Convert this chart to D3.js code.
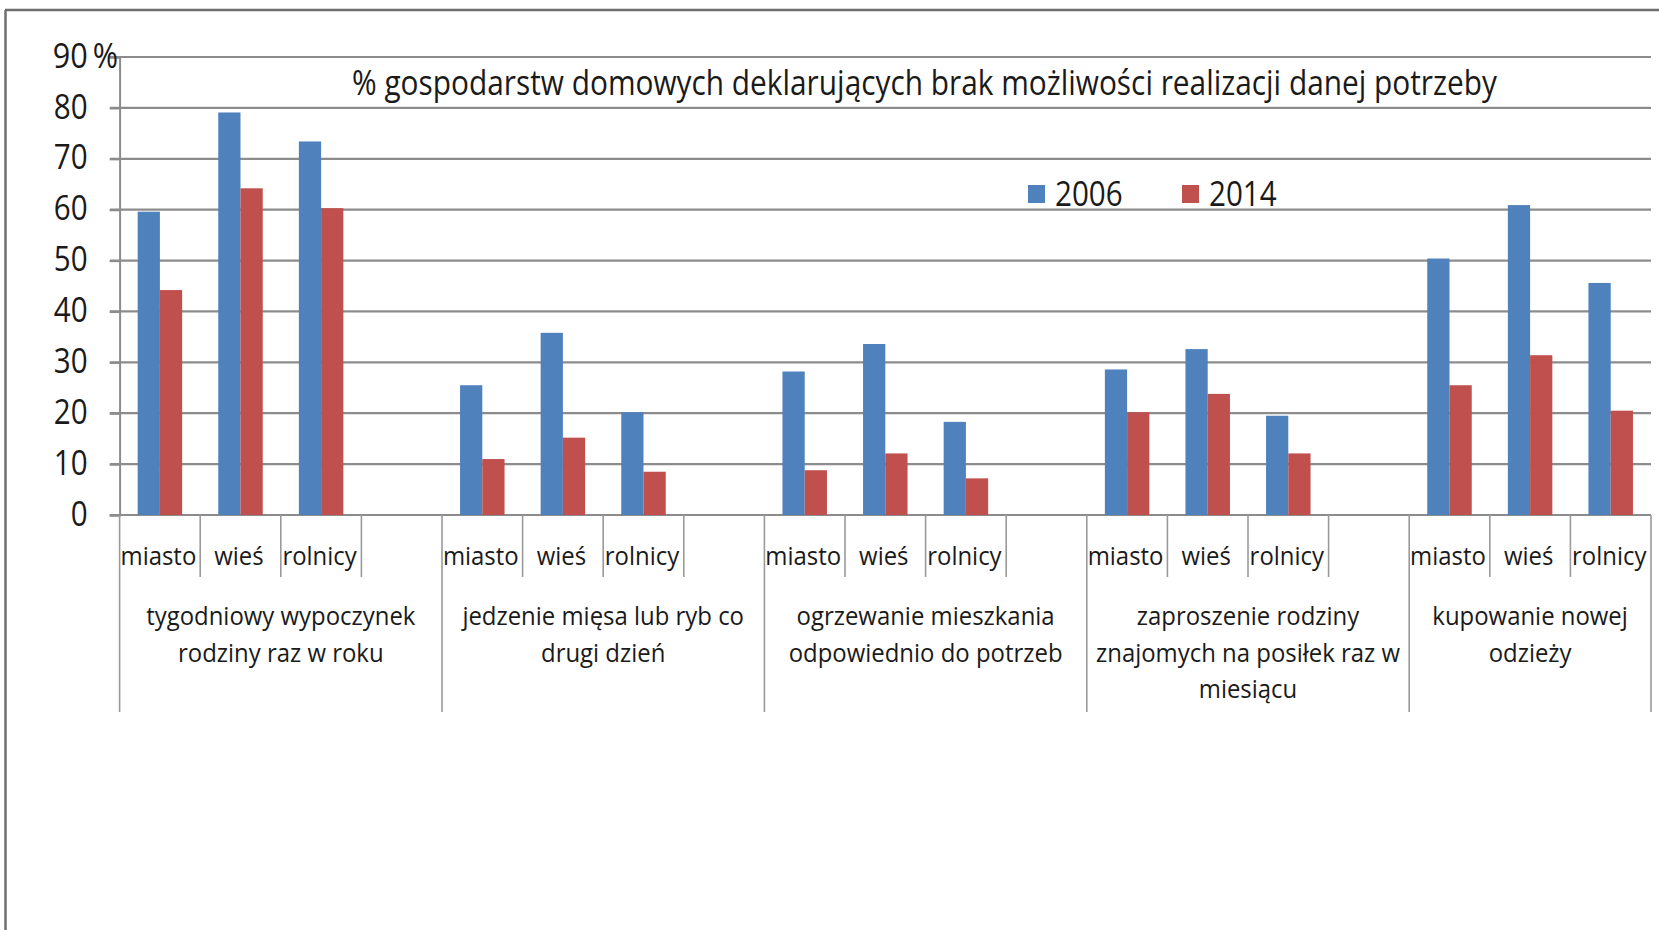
<!DOCTYPE html>
<html><head><meta charset="utf-8">
<script src="https://cdn.jsdelivr.net/npm/d3@7"></script>
<style>
body{margin:0;background:#fff}
svg{display:block}
text{font-family:"Open Sans",sans-serif;fill:#1a1a1a}
</style>
</head><body><svg id="c" width="1659" height="930"></svg>
<script>
const groupLabels = [
  ["tygodniowy wypoczynek","rodziny raz w roku"],
  ["jedzenie mięsa lub ryb co","drugi dzień"],
  ["ogrzewanie mieszkania","odpowiednio do potrzeb"],
  ["zaproszenie rodziny","znajomych na posiłek raz w","miesiącu"],
  ["kupowanie nowej","odzieży"]
];
const subcats = ["miasto","wieś","rolnicy"];
const seriesNames = ["2006","2014"];
const values2006 = [59.6,79.1,73.4, 25.5,35.8,20.2, 28.2,33.6,18.3, 28.6,32.6,19.5, 50.4,60.9,45.6];
const values2014 = [44.2,64.2,60.3, 11.0,15.2,8.5,  8.8,12.1,7.2,  20.2,23.8,12.1, 25.5,31.4,20.5];
const yTicks = [0,10,20,30,40,50,60,70,80,90];
const titleText = "% gospodarstw domowych deklarujących brak możliwości realizacji danej potrzeby";
const colors = {"2006":"#4F81BD","2014":"#C0504D"};

const svg = d3.select("#c");
const gridColor = "#8c8c8c";

function squeeze(sel, f){
  sel.each(function(){
    const w = this.getComputedTextLength();
    d3.select(this).attr("textLength", w*f).attr("lengthAdjust","spacingAndGlyphs");
  });
}

const slots = [];
let vi = 0;
groupLabels.forEach((g,gi)=>{
  subcats.forEach((s,si)=>{ slots.push({gi, label:s, key:gi+"-"+si, v2006:values2006[vi], v2014:values2014[vi]}); vi++; });
  if (gi < groupLabels.length-1) slots.push({gi, label:"", key:gi+"-e", empty:true});
});

const x = d3.scaleBand().domain(slots.map(d=>d.key)).range([119.6,1651]).padding(0);
const y = d3.scaleLinear().domain([0,90]).range([515,57]);
const bw = x.bandwidth()*0.276;
const xs = d3.scaleBand().domain(seriesNames).range([-bw, bw]);

// frame
svg.append("line").attr("x1",5).attr("x2",1659).attr("y1",10).attr("y2",10).attr("stroke","#6e6e6e").attr("stroke-width",2.5);
svg.append("line").attr("x1",5.5).attr("x2",5.5).attr("y1",10).attr("y2",930).attr("stroke","#6e6e6e").attr("stroke-width",2.5);

// gridlines
svg.append("g").selectAll("line").data(yTicks).join("line")
  .attr("x1",110).attr("x2",1651).attr("y1",d=>y(d)).attr("y2",d=>y(d))
  .attr("stroke",gridColor).attr("stroke-width",2.2);

// y axis
const yAxis = svg.append("g").attr("transform","translate(119.6,0)")
  .call(d3.axisLeft(y).tickValues(yTicks).tickSize(10).tickPadding(22).tickFormat(d=>d===90?"90\u2009%":d));
yAxis.select(".domain").attr("stroke",gridColor).attr("stroke-width",2);
yAxis.selectAll(".tick line").attr("stroke",gridColor).attr("stroke-width",2.2);
const tickTexts = yAxis.selectAll(".tick text").attr("font-size",34).attr("font-family","Open Sans").attr("fill","#1a1a1a").attr("dy","0.3em");
tickTexts.filter(d=>d===90).attr("x",-1.5);
squeeze(tickTexts.filter(d=>d!==90), 0.87);
squeeze(tickTexts.filter(d=>d===90), 0.9);

// bars
const bars = svg.append("g");
slots.filter(d=>!d.empty).forEach(s=>{
  seriesNames.forEach(sn=>{
    const v = s["v"+sn];
    bars.append("rect")
      .attr("x", x(s.key)+x.bandwidth()/2 + xs(sn))
      .attr("width", xs.bandwidth())
      .attr("y", y(v)).attr("height", y(0)-y(v))
      .attr("fill", colors[sn]);
  });
});

// category axis dividers
const bounds = slots.map(d=>({x:x(d.key), groupStart: d.label==="miasto"}));
bounds.push({x:1651, groupStart:true});
svg.append("g").selectAll("line").data(bounds).join("line")
  .attr("x1",d=>d.x).attr("x2",d=>d.x).attr("y1",515).attr("y2",d=>d.groupStart?712:577)
  .attr("stroke","#9a9a9a").attr("stroke-width",1.6);

// sub labels
const subT = svg.append("g").selectAll("text").data(slots.filter(d=>!d.empty)).join("text")
  .attr("x",d=>x(d.key)+x.bandwidth()/2-1.5).attr("y",565)
  .attr("text-anchor","middle").attr("font-size",26).text(d=>d.label);
squeeze(subT, 0.92);

// group labels
groupLabels.forEach((lines,gi)=>{
  const gs = slots.filter(d=>d.gi===gi);
  const x0 = x(gs[0].key), x1 = x(gs[gs.length-1].key)+x.bandwidth();
  lines.forEach((ln,li)=>{
    const t = svg.append("text").attr("text-anchor","middle").attr("font-size",26)
      .attr("x",(x0+x1)/2).attr("y",625+li*36.7).text(ln);
    squeeze(t, 0.92);
  });
});

// title
svg.append("text").attr("x",924.5).attr("y",95).attr("text-anchor","middle")
  .attr("font-size",34).attr("textLength",1145).attr("lengthAdjust","spacingAndGlyphs").text(titleText);

// legend
const legX = {"2006":1028,"2014":1182};
seriesNames.forEach(sn=>{
  svg.append("rect").attr("x",legX[sn]).attr("y",185).attr("width",17).attr("height",18).attr("fill",colors[sn]);
  const t = svg.append("text").attr("x",legX[sn]+27).attr("y",206).attr("font-size",34).text(sn);
  squeeze(t, 0.87);
});
</script>
</body></html>
